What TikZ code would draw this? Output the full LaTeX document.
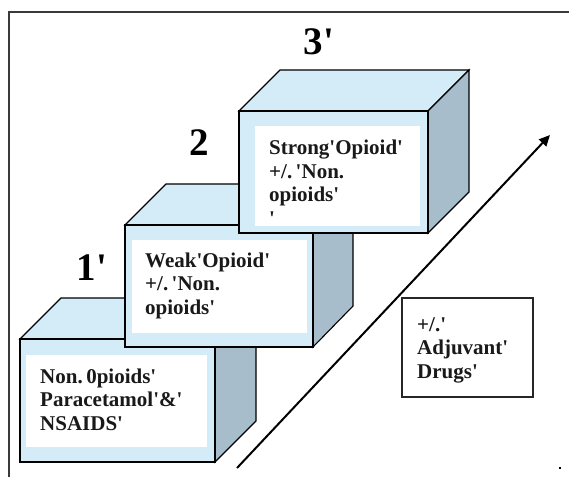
\documentclass[tikz,border=0pt]{standalone}
\usepackage{fontspec}
\setmainfont{Liberation Serif}[Ligatures=TeXOff]
\usetikzlibrary{arrows.meta}
\definecolor{faceblue}{HTML}{D4ECF8}
\definecolor{sidegray}{HTML}{A7BDCB}
\definecolor{framegray}{HTML}{3A3A3A}
\tikzset{
  face/.style={fill=faceblue,draw=black,line width=1.1pt,line join=miter},
  side/.style={fill=sidegray,draw=black,line width=1.1pt,line join=miter},
  inner/.style={fill=white,draw=none},
  boxtext/.style={font=\fontsize{21}{23.5}\selectfont\bfseries,align=left,anchor=base west,inner sep=0pt,text=black!90},
  levellabel/.style={font=\fontsize{39}{39}\selectfont\bfseries,inner sep=0pt},
  plainbox/.style={draw=black!85,line width=1.1pt,fill=white},
}
\begin{document}
\begin{tikzpicture}[x=1pt,y=-1pt]
\useasboundingbox (0,0) rectangle (569,476);
\fill[white] (0,0) rectangle (569,476);
% frame
\draw[framegray,line width=1.3pt] (9,480) -- (9,12) -- (575,12);

% ---- step 1
\draw[face] (20,339) -- (61,298) -- (256,298) -- (215,339) -- cycle;
\draw[side] (215,339) -- (256,298) -- (256,421) -- (215,462) -- cycle;
\draw[face] (20,339) rectangle (215,462);
\fill[inner] (26,355) rectangle (207,447);
\node[boxtext] (t1) at (40,430) {Non.\,0pioids'\\Paracetamol'\&'\\NSAIDS'};

% ---- step 2
\draw[face] (125,225) -- (166,184) -- (353,184) -- (313,225) -- cycle;
\draw[side] (313,225) -- (353,184) -- (353,306) -- (313,347) -- cycle;
\draw[face] (125,225) rectangle (313,347);
\fill[inner] (132,240) rectangle (307,333);
\node[boxtext] (t2) at (145,314) {Weak'Opioid'\\+/.\,'Non.\\opioids'};

% ---- step 3
\draw[face] (239,111) -- (280,70) -- (469,70) -- (428,111) -- cycle;
\draw[side] (428,111) -- (469,70) -- (469,192) -- (428,233) -- cycle;
\draw[face] (239,111) rectangle (428,233);
\fill[inner] (255,126) rectangle (420,226);
\node[boxtext] (t3) at (269,225) {Strong'Opioid'\\+/.\,'Non.\\opioids'\\'};

% level labels
\node[levellabel] (l1) at (92,268) {1'};
\node[levellabel] (l2) at (199,143) {2};
\node[levellabel] (l3) at (319,42) {3'};

% arrow
\coordinate (as) at (237,468);
\coordinate (ae) at (550,135);
\draw[line width=2pt,-{Triangle[length=11pt,width=10pt]}] (as) -- (ae);

% adjuvant box
\draw[plainbox] (402,298) rectangle (533,397);
\node[boxtext] (t4) at (417,378) {+/.'\\Adjuvant'\\Drugs'};

% small dot
\fill[black] (559,467) rectangle (561,469);
\end{tikzpicture}
\end{document}
